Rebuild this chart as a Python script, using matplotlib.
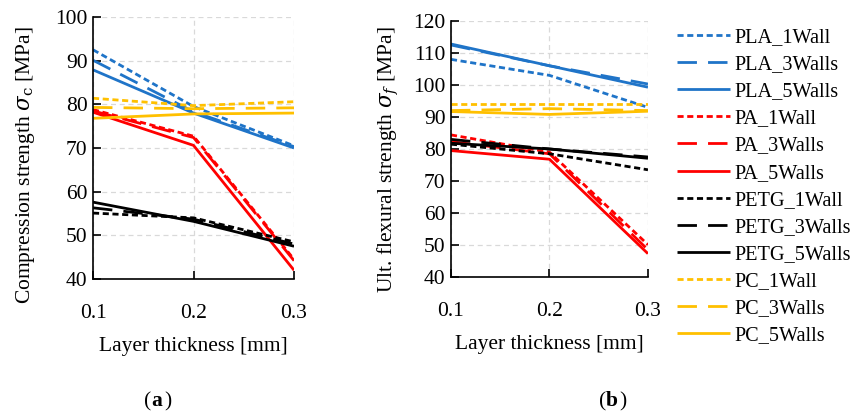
import matplotlib
matplotlib.use("Agg")
import matplotlib.pyplot as plt

plt.rcParams['font.family'] = ['Liberation Serif', 'DejaVu Serif']
plt.rcParams['mathtext.fontset'] = 'dejavuserif'

thickness = [0.1, 0.2, 0.3]

series_names = ['PLA_1Wall', 'PLA_3Walls', 'PLA_5Walls',
                'PA_1Wall', 'PA_3Walls', 'PA_5Walls',
                'PETG_1Wall', 'PETG_3Walls', 'PETG_5Walls',
                'PC_1Wall', 'PC_3Walls', 'PC_5Walls']

# compression strength (a)
comp_pla = [[92.5, 79.5, 70.5], [90.1, 78.3, 70.3], [87.9, 78.0, 70.0]]
comp_pa = [[78.8, 72.7, 44.5], [78.5, 72.4, 44.2], [78.2, 70.6, 42.0]]
comp_petg = [[55.1, 54.0, 48.5], [56.3, 53.7, 48.0], [57.6, 53.2, 47.5]]
comp_pc = [[81.4, 79.7, 80.6], [79.3, 79.0, 79.2], [76.8, 77.8, 78.0]]

# ultimate flexural strength (b)
flex_pla = [[108.0, 103.0, 93.0], [112.5, 106.0, 100.3], [112.8, 106.0, 99.3]]
flex_pa = [[84.4, 79.0, 50.1], [82.3, 78.5, 48.5], [79.5, 76.8, 47.3]]
flex_petg = [[81.5, 78.5, 73.5], [83.0, 80.0, 77.5], [81.8, 80.0, 77.1]]
flex_pc = [[94.2, 94.2, 94.2], [92.0, 92.6, 92.0], [91.7, 90.8, 91.8]]

colors = ['#1F74C8', '#FF0000', '#000000', '#FFC000']
dashes = [(2.2, 1.3), (7, 4), None]
fs = 15.5

fig = plt.figure(figsize=(8.58, 4.11), dpi=100)
ax_a = fig.add_axes([0.1084, 0.3212, 0.2343, 0.6374])
ax_b = fig.add_axes([0.5256, 0.326, 0.2296, 0.623])


def draw_panel(ax, groups, ylim, yticks, ylabel, label_xy):
    handles = []
    for color, group in zip(colors, groups):
        for dash, vals in zip(dashes, group):
            line, = ax.plot(thickness, vals, color=color, lw=2.0, solid_capstyle='butt')
            if dash is not None:
                line.set_dashes(dash)
            handles.append(line)
    ax.set_xlim(0.1, 0.3)
    ax.set_ylim(*ylim)
    ax.set_xticks(thickness)
    ax.set_xticklabels(['0.1', '0.2', '0.3'])
    ax.set_yticks(yticks)
    ax.grid(True, color='#D9D9D9', linestyle=(0, (4, 3)), lw=0.9)
    ax.set_axisbelow(True)
    for s in ['top', 'right']:
        ax.spines[s].set_visible(False)
    for s in ['left', 'bottom']:
        ax.spines[s].set_linewidth(1.2)
    ax.tick_params(direction='in', length=6, width=1.2, labelsize=fs)
    ax.tick_params(axis='x', pad=18)
    ax.tick_params(axis='y', pad=4)
    ax.set_xlabel('Layer thickness [mm]', fontsize=fs, labelpad=10)
    ax.set_ylabel(ylabel, fontsize=fs)
    ax.yaxis.set_label_coords(*label_xy)
    return handles


handles = draw_panel(ax_a, [comp_pla, comp_pa, comp_petg, comp_pc], (40, 100),
                     range(40, 101, 10), r'Compression strength $\sigma_\mathrm{c}$ [MPa]',
                     (-0.28, 0.435))
draw_panel(ax_b, [flex_pla, flex_pa, flex_petg, flex_pc], (40, 120),
           range(40, 121, 10), r'Ult. flexural strength $\sigma_f$ [MPa]',
           (-0.254, 0.46))

fig.legend(handles, series_names, loc='upper left', bbox_to_anchor=(0.789, 0.932),
           frameon=False, fontsize=14.6, handlelength=2.6, handletextpad=0.25,
           labelspacing=0.39, borderaxespad=0, borderpad=0)

fig.text(0.1766, 0.012, '(', fontsize=fs, ha='right')
fig.text(0.1766, 0.012, 'a', fontsize=fs, fontweight='bold', ha='left')
fig.text(0.1912, 0.012, ')', fontsize=fs, ha='left')
fig.text(0.7065, 0.012, '(', fontsize=fs, ha='right')
fig.text(0.7065, 0.012, 'b', fontsize=fs, fontweight='bold', ha='left')
fig.text(0.7218, 0.012, ')', fontsize=fs, ha='left')

fig.savefig('out.png', dpi=100)
